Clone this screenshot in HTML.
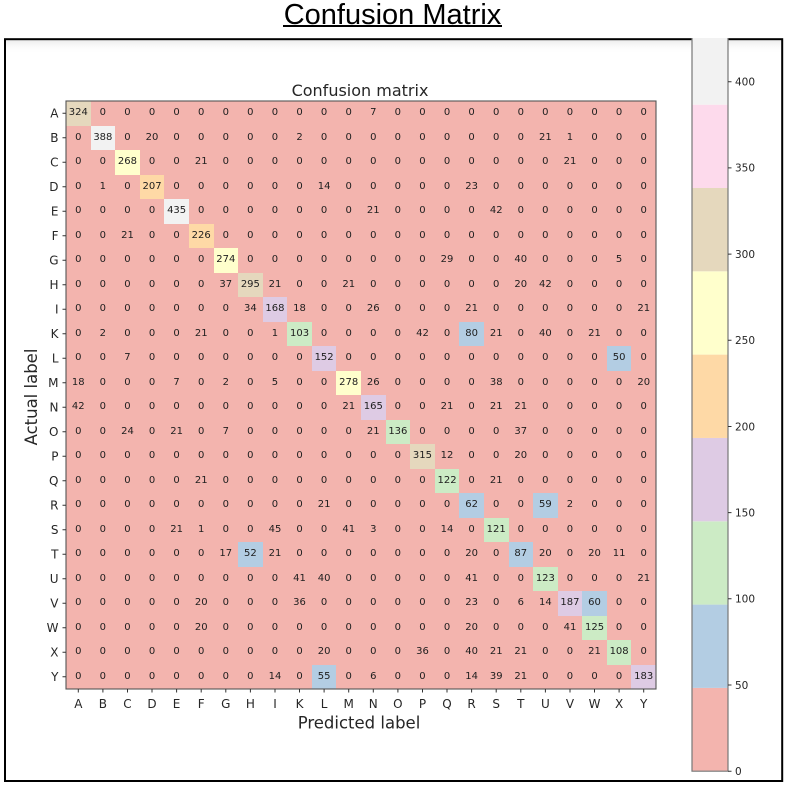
<!DOCTYPE html>
<html><head><meta charset="utf-8">
<style>
html,body{margin:0;padding:0;background:#fff;}
body{width:796px;height:796px;position:relative;overflow:hidden;}
.g{position:absolute;left:66px;top:101px;width:590px;height:588px;display:grid;grid-template-columns:repeat(24,1fr);grid-template-rows:repeat(24,1fr);background:#f3b4ae;font-family:"DejaVu Sans",sans-serif;font-size:10px;color:#1e1e1e;}
.g i{font-style:normal;display:flex;align-items:center;justify-content:center;line-height:1;}
.g .t{background:#e5d8bd}.g .w{background:#f2f2f2}.g .y{background:#ffffcc}.g .o{background:#fed9a6}.g .p{background:#decbe4}.g .n{background:#ccebc5}.g .b{background:#b3cde3}
svg{position:absolute;left:0;top:0;}
</style></head><body>
<div class="g">
<i class="t">324</i><i>0</i><i>0</i><i>0</i><i>0</i><i>0</i><i>0</i><i>0</i><i>0</i><i>0</i><i>0</i><i>0</i><i>7</i><i>0</i><i>0</i><i>0</i><i>0</i><i>0</i><i>0</i><i>0</i><i>0</i><i>0</i><i>0</i><i>0</i>
<i>0</i><i class="w">388</i><i>0</i><i>20</i><i>0</i><i>0</i><i>0</i><i>0</i><i>0</i><i>2</i><i>0</i><i>0</i><i>0</i><i>0</i><i>0</i><i>0</i><i>0</i><i>0</i><i>0</i><i>21</i><i>1</i><i>0</i><i>0</i><i>0</i>
<i>0</i><i>0</i><i class="y">268</i><i>0</i><i>0</i><i>21</i><i>0</i><i>0</i><i>0</i><i>0</i><i>0</i><i>0</i><i>0</i><i>0</i><i>0</i><i>0</i><i>0</i><i>0</i><i>0</i><i>0</i><i>21</i><i>0</i><i>0</i><i>0</i>
<i>0</i><i>1</i><i>0</i><i class="o">207</i><i>0</i><i>0</i><i>0</i><i>0</i><i>0</i><i>0</i><i>14</i><i>0</i><i>0</i><i>0</i><i>0</i><i>0</i><i>23</i><i>0</i><i>0</i><i>0</i><i>0</i><i>0</i><i>0</i><i>0</i>
<i>0</i><i>0</i><i>0</i><i>0</i><i class="w">435</i><i>0</i><i>0</i><i>0</i><i>0</i><i>0</i><i>0</i><i>0</i><i>21</i><i>0</i><i>0</i><i>0</i><i>0</i><i>42</i><i>0</i><i>0</i><i>0</i><i>0</i><i>0</i><i>0</i>
<i>0</i><i>0</i><i>21</i><i>0</i><i>0</i><i class="o">226</i><i>0</i><i>0</i><i>0</i><i>0</i><i>0</i><i>0</i><i>0</i><i>0</i><i>0</i><i>0</i><i>0</i><i>0</i><i>0</i><i>0</i><i>0</i><i>0</i><i>0</i><i>0</i>
<i>0</i><i>0</i><i>0</i><i>0</i><i>0</i><i>0</i><i class="y">274</i><i>0</i><i>0</i><i>0</i><i>0</i><i>0</i><i>0</i><i>0</i><i>0</i><i>29</i><i>0</i><i>0</i><i>40</i><i>0</i><i>0</i><i>0</i><i>5</i><i>0</i>
<i>0</i><i>0</i><i>0</i><i>0</i><i>0</i><i>0</i><i>37</i><i class="t">295</i><i>21</i><i>0</i><i>0</i><i>21</i><i>0</i><i>0</i><i>0</i><i>0</i><i>0</i><i>0</i><i>20</i><i>42</i><i>0</i><i>0</i><i>0</i><i>0</i>
<i>0</i><i>0</i><i>0</i><i>0</i><i>0</i><i>0</i><i>0</i><i>34</i><i class="p">168</i><i>18</i><i>0</i><i>0</i><i>26</i><i>0</i><i>0</i><i>0</i><i>21</i><i>0</i><i>0</i><i>0</i><i>0</i><i>0</i><i>0</i><i>21</i>
<i>0</i><i>2</i><i>0</i><i>0</i><i>0</i><i>21</i><i>0</i><i>0</i><i>1</i><i class="n">103</i><i>0</i><i>0</i><i>0</i><i>0</i><i>42</i><i>0</i><i class="b">80</i><i>21</i><i>0</i><i>40</i><i>0</i><i>21</i><i>0</i><i>0</i>
<i>0</i><i>0</i><i>7</i><i>0</i><i>0</i><i>0</i><i>0</i><i>0</i><i>0</i><i>0</i><i class="p">152</i><i>0</i><i>0</i><i>0</i><i>0</i><i>0</i><i>0</i><i>0</i><i>0</i><i>0</i><i>0</i><i>0</i><i class="b">50</i><i>0</i>
<i>18</i><i>0</i><i>0</i><i>0</i><i>7</i><i>0</i><i>2</i><i>0</i><i>5</i><i>0</i><i>0</i><i class="y">278</i><i>26</i><i>0</i><i>0</i><i>0</i><i>0</i><i>38</i><i>0</i><i>0</i><i>0</i><i>0</i><i>0</i><i>20</i>
<i>42</i><i>0</i><i>0</i><i>0</i><i>0</i><i>0</i><i>0</i><i>0</i><i>0</i><i>0</i><i>0</i><i>21</i><i class="p">165</i><i>0</i><i>0</i><i>21</i><i>0</i><i>21</i><i>21</i><i>0</i><i>0</i><i>0</i><i>0</i><i>0</i>
<i>0</i><i>0</i><i>24</i><i>0</i><i>21</i><i>0</i><i>7</i><i>0</i><i>0</i><i>0</i><i>0</i><i>0</i><i>21</i><i class="n">136</i><i>0</i><i>0</i><i>0</i><i>0</i><i>37</i><i>0</i><i>0</i><i>0</i><i>0</i><i>0</i>
<i>0</i><i>0</i><i>0</i><i>0</i><i>0</i><i>0</i><i>0</i><i>0</i><i>0</i><i>0</i><i>0</i><i>0</i><i>0</i><i>0</i><i class="t">315</i><i>12</i><i>0</i><i>0</i><i>20</i><i>0</i><i>0</i><i>0</i><i>0</i><i>0</i>
<i>0</i><i>0</i><i>0</i><i>0</i><i>0</i><i>21</i><i>0</i><i>0</i><i>0</i><i>0</i><i>0</i><i>0</i><i>0</i><i>0</i><i>0</i><i class="n">122</i><i>0</i><i>21</i><i>0</i><i>0</i><i>0</i><i>0</i><i>0</i><i>0</i>
<i>0</i><i>0</i><i>0</i><i>0</i><i>0</i><i>0</i><i>0</i><i>0</i><i>0</i><i>0</i><i>21</i><i>0</i><i>0</i><i>0</i><i>0</i><i>0</i><i class="b">62</i><i>0</i><i>0</i><i class="b">59</i><i>2</i><i>0</i><i>0</i><i>0</i>
<i>0</i><i>0</i><i>0</i><i>0</i><i>21</i><i>1</i><i>0</i><i>0</i><i>45</i><i>0</i><i>0</i><i>41</i><i>3</i><i>0</i><i>0</i><i>14</i><i>0</i><i class="n">121</i><i>0</i><i>0</i><i>0</i><i>0</i><i>0</i><i>0</i>
<i>0</i><i>0</i><i>0</i><i>0</i><i>0</i><i>0</i><i>17</i><i class="b">52</i><i>21</i><i>0</i><i>0</i><i>0</i><i>0</i><i>0</i><i>0</i><i>0</i><i>20</i><i>0</i><i class="b">87</i><i>20</i><i>0</i><i>20</i><i>11</i><i>0</i>
<i>0</i><i>0</i><i>0</i><i>0</i><i>0</i><i>0</i><i>0</i><i>0</i><i>0</i><i>41</i><i>40</i><i>0</i><i>0</i><i>0</i><i>0</i><i>0</i><i>41</i><i>0</i><i>0</i><i class="n">123</i><i>0</i><i>0</i><i>0</i><i>21</i>
<i>0</i><i>0</i><i>0</i><i>0</i><i>0</i><i>20</i><i>0</i><i>0</i><i>0</i><i>36</i><i>0</i><i>0</i><i>0</i><i>0</i><i>0</i><i>0</i><i>23</i><i>0</i><i>6</i><i>14</i><i class="p">187</i><i class="b">60</i><i>0</i><i>0</i>
<i>0</i><i>0</i><i>0</i><i>0</i><i>0</i><i>20</i><i>0</i><i>0</i><i>0</i><i>0</i><i>0</i><i>0</i><i>0</i><i>0</i><i>0</i><i>0</i><i>20</i><i>0</i><i>0</i><i>0</i><i>41</i><i class="n">125</i><i>0</i><i>0</i>
<i>0</i><i>0</i><i>0</i><i>0</i><i>0</i><i>0</i><i>0</i><i>0</i><i>0</i><i>0</i><i>20</i><i>0</i><i>0</i><i>0</i><i>36</i><i>0</i><i>40</i><i>21</i><i>21</i><i>0</i><i>0</i><i>21</i><i class="n">108</i><i>0</i>
<i>0</i><i>0</i><i>0</i><i>0</i><i>0</i><i>0</i><i>0</i><i>0</i><i>14</i><i>0</i><i class="b">55</i><i>0</i><i>6</i><i>0</i><i>0</i><i>0</i><i>14</i><i>39</i><i>21</i><i>0</i><i>0</i><i>0</i><i>0</i><i class="p">183</i>
</div>
<svg width="796" height="796" viewBox="0 0 796 796" xmlns="http://www.w3.org/2000/svg">
<defs>
<linearGradient id="sh" x1="0" y1="0" x2="0" y2="1"><stop offset="0" stop-color="#ececec"/><stop offset="1" stop-color="#ffffff" stop-opacity="0"/></linearGradient>
</defs>
<text x="392.5" y="24" font-family="Liberation Sans, Arial, sans-serif" font-size="29" text-anchor="middle" fill="#000">Confusion Matrix</text>
<rect x="283" y="25" width="219" height="2" fill="#000"/>
<rect x="6" y="40.2" width="775" height="14" fill="url(#sh)"/>
<rect x="5" y="39.2" width="777.2" height="741.8" fill="none" stroke="#000" stroke-width="2"/>
<rect x="692" y="687.9" width="36" height="83.3" fill="#f3b4ae"/>
<rect x="692" y="604.6" width="36" height="83.3" fill="#b3cde3"/>
<rect x="692" y="521.3" width="36" height="83.3" fill="#ccebc5"/>
<rect x="692" y="437.95" width="36" height="83.35" fill="#decbe4"/>
<rect x="692" y="354.6" width="36" height="83.35" fill="#fed9a6"/>
<rect x="692" y="271.3" width="36" height="83.3" fill="#ffffcc"/>
<rect x="692" y="188" width="36" height="83.3" fill="#e5d8bd"/>
<rect x="692" y="104.7" width="36" height="83.3" fill="#fddaec"/>
<rect x="692" y="38" width="36" height="66.7" fill="#f2f2f2"/>
<path d="M692 38V771.2H728V38" fill="none" stroke="#777" stroke-width="1.2"/>
<path d="M728 771.2h3.5M728 685h3.5M728 598.8h3.5M728 512.6h3.5M728 426.5h3.5M728 340.3h3.5M728 254.1h3.5M728 167.9h3.5M728 81.7h3.5" stroke="#333" stroke-width="1"/>
<g font-family="DejaVu Sans, sans-serif" font-size="10.5" fill="#262626">
<text x="735" y="775">0</text>
<text x="735" y="688.8">50</text>
<text x="735" y="602.6">100</text>
<text x="735" y="516.4">150</text>
<text x="735" y="430.3">200</text>
<text x="735" y="344.1">250</text>
<text x="735" y="257.9">300</text>
<text x="735" y="171.7">350</text>
<text x="735" y="85.5">400</text>
</g>
<rect x="66" y="101" width="590" height="588" fill="none" stroke="#555" stroke-width="1.1"/>
<path d="M62.5 113.25h3.5M62.5 137.75h3.5M62.5 162.25h3.5M62.5 186.75h3.5M62.5 211.25h3.5M62.5 235.75h3.5M62.5 260.25h3.5M62.5 284.75h3.5M62.5 309.25h3.5M62.5 333.75h3.5M62.5 358.25h3.5M62.5 382.75h3.5M62.5 407.25h3.5M62.5 431.75h3.5M62.5 456.25h3.5M62.5 480.75h3.5M62.5 505.25h3.5M62.5 529.75h3.5M62.5 554.25h3.5M62.5 578.75h3.5M62.5 603.25h3.5M62.5 627.75h3.5M62.5 652.25h3.5M62.5 676.75h3.5" stroke="#333" stroke-width="1"/>
<path d="M78.3 689v3.5M102.9 689v3.5M127.5 689v3.5M152 689v3.5M176.6 689v3.5M201.2 689v3.5M225.8 689v3.5M250.4 689v3.5M275 689v3.5M299.5 689v3.5M324.1 689v3.5M348.7 689v3.5M373.3 689v3.5M397.9 689v3.5M422.5 689v3.5M447 689v3.5M471.6 689v3.5M496.2 689v3.5M520.8 689v3.5M545.4 689v3.5M570 689v3.5M594.5 689v3.5M619.1 689v3.5M643.7 689v3.5" stroke="#333" stroke-width="1"/>
<g font-family="DejaVu Sans, sans-serif" font-size="12" fill="#262626" text-anchor="end">
<text x="58.5" y="117.55">A</text>
<text x="58.5" y="142.05">B</text>
<text x="58.5" y="166.55">C</text>
<text x="58.5" y="191.05">D</text>
<text x="58.5" y="215.55">E</text>
<text x="58.5" y="240.05">F</text>
<text x="58.5" y="264.55">G</text>
<text x="58.5" y="289.05">H</text>
<text x="58.5" y="313.55">I</text>
<text x="58.5" y="338.05">K</text>
<text x="58.5" y="362.55">L</text>
<text x="58.5" y="387.05">M</text>
<text x="58.5" y="411.55">N</text>
<text x="58.5" y="436.05">O</text>
<text x="58.5" y="460.55">P</text>
<text x="58.5" y="485.05">Q</text>
<text x="58.5" y="509.55">R</text>
<text x="58.5" y="534.05">S</text>
<text x="58.5" y="558.55">T</text>
<text x="58.5" y="583.05">U</text>
<text x="58.5" y="607.55">V</text>
<text x="58.5" y="632.05">W</text>
<text x="58.5" y="656.55">X</text>
<text x="58.5" y="681.05">Y</text>
</g>
<g font-family="DejaVu Sans, sans-serif" font-size="12" fill="#262626" text-anchor="middle">
<text x="78.3" y="708">A</text>
<text x="102.9" y="708">B</text>
<text x="127.5" y="708">C</text>
<text x="152" y="708">D</text>
<text x="176.6" y="708">E</text>
<text x="201.2" y="708">F</text>
<text x="225.8" y="708">G</text>
<text x="250.4" y="708">H</text>
<text x="275" y="708">I</text>
<text x="299.5" y="708">K</text>
<text x="324.1" y="708">L</text>
<text x="348.7" y="708">M</text>
<text x="373.3" y="708">N</text>
<text x="397.9" y="708">O</text>
<text x="422.5" y="708">P</text>
<text x="447" y="708">Q</text>
<text x="471.6" y="708">R</text>
<text x="496.2" y="708">S</text>
<text x="520.8" y="708">T</text>
<text x="545.4" y="708">U</text>
<text x="570" y="708">V</text>
<text x="594.5" y="708">W</text>
<text x="619.1" y="708">X</text>
<text x="643.7" y="708">Y</text>
</g>
<g font-family="DejaVu Sans, sans-serif" fill="#262626" text-anchor="middle">
<text x="360" y="96" font-size="16">Confusion matrix</text>
<text x="359" y="728.5" font-size="16.5">Predicted label</text>
<text transform="translate(37 397) rotate(-90)" font-size="16.5">Actual label</text>
</g>
</svg>
</body></html>
